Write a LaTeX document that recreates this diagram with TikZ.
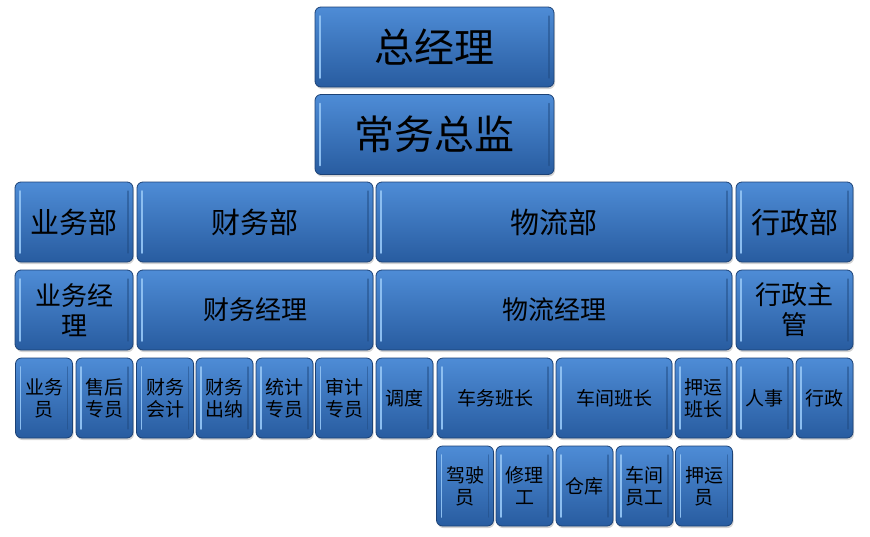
\documentclass[tikz,border=0pt]{standalone}
\usepackage{fontspec}
\setmainfont{Noto Sans CJK SC}
\usetikzlibrary{positioning,shadows}

\definecolor{boxtop}{RGB}{78,140,214}
\definecolor{boxbot}{RGB}{40,92,160}
\definecolor{boxedge}{RGB}{28,66,118}
\definecolor{boxlite}{RGB}{140,190,240}

\tikzset{
	orgbox/.style={rounded corners=6pt, draw=boxedge, line width=0.8pt,
		top color=boxtop, bottom color=boxbot, align=center, inner sep=1pt,
		text=black,
		drop shadow={opacity=0.35, shadow xshift=1pt, shadow yshift=-2pt},
		path picture={
			\draw[boxlite, line width=1.6pt, line cap=round]
				([xshift=5pt,yshift=-9pt]path picture bounding box.north west) --
				([xshift=5pt,yshift=9pt]path picture bounding box.south west);
			\draw[boxbot!80!black, line width=1.2pt, opacity=0.5, line cap=round]
				([xshift=-5pt,yshift=-9pt]path picture bounding box.north east) --
				([xshift=-5pt,yshift=9pt]path picture bounding box.south east);
		}},
	topbox/.style={orgbox, minimum width=239pt, minimum height=80pt,
		font=\fontsize{40}{46}\selectfont},
	deptbox/.style={orgbox, minimum height=80pt,
		font=\fontsize{29}{34}\selectfont},
	mgrbox/.style={orgbox, minimum height=80pt,
		font=\fontsize{26}{30}\selectfont},
	staffbox/.style={orgbox, minimum height=80pt, minimum width=57pt,
		font=\fontsize{19}{22}\selectfont},
}

\begin{document}
\begin{tikzpicture}[x=1pt, y=-1pt]
	\useasboundingbox (0,0) rectangle (870,536);

	% top
	\node[topbox] (gm) at (434.5,47) {总经理};
	\node[topbox] (coo) at (434.5,134.5) {常务总监};

	% departments
	\node[deptbox, minimum width=118pt] (sales) at (74,222) {业务部};
	\node[deptbox, minimum width=236pt] (fin) at (255,222) {财务部};
	\node[deptbox, minimum width=356pt] (log) at (554,222) {物流部};
	\node[deptbox, minimum width=117pt] (adm) at (794.5,222) {行政部};

	% managers
	\node[mgrbox, minimum width=118pt] (salesmgr) at (74,310) {业务经\\理};
	\node[mgrbox, minimum width=236pt] (finmgr) at (255,310) {财务经理};
	\node[mgrbox, minimum width=356pt] (logmgr) at (554,310) {物流经理};
	\node[mgrbox, minimum width=117pt] (admmgr) at (794.5,310) {行政主\\管};

	% staff
	\node[staffbox] (clerk) at (44,398) {业务\\员};
	\node[staffbox] (aftersale) at (104.5,398) {售后\\专员};
	\node[staffbox] (acct) at (165,398) {财务\\会计};
	\node[staffbox] (cashier) at (224.5,398) {财务\\出纳};
	\node[staffbox] (stat) at (284.5,398) {统计\\专员};
	\node[staffbox] (audit) at (344,398) {审计\\专员};
	\node[staffbox] (dispatch) at (404.5,398) {调度};
	\node[staffbox, minimum width=116pt] (fleetlead) at (495,398) {车务班长};
	\node[staffbox, minimum width=116pt] (shoplead) at (614,398) {车间班长};
	\node[staffbox] (escortlead) at (703.5,398) {押运\\班长};
	\node[staffbox] (hr) at (764.5,398) {人事};
	\node[staffbox] (office) at (824.5,398) {行政};

	% workers
	\node[staffbox] (driver) at (465,486) {驾驶\\员};
	\node[staffbox] (repair) at (524.5,486) {修理\\工};
	\node[staffbox] (store) at (584.5,486) {仓库};
	\node[staffbox] (shopstaff) at (644.5,486) {车间\\员工};
	\node[staffbox] (escort) at (704,486) {押运\\员};
\end{tikzpicture}
\end{document}
